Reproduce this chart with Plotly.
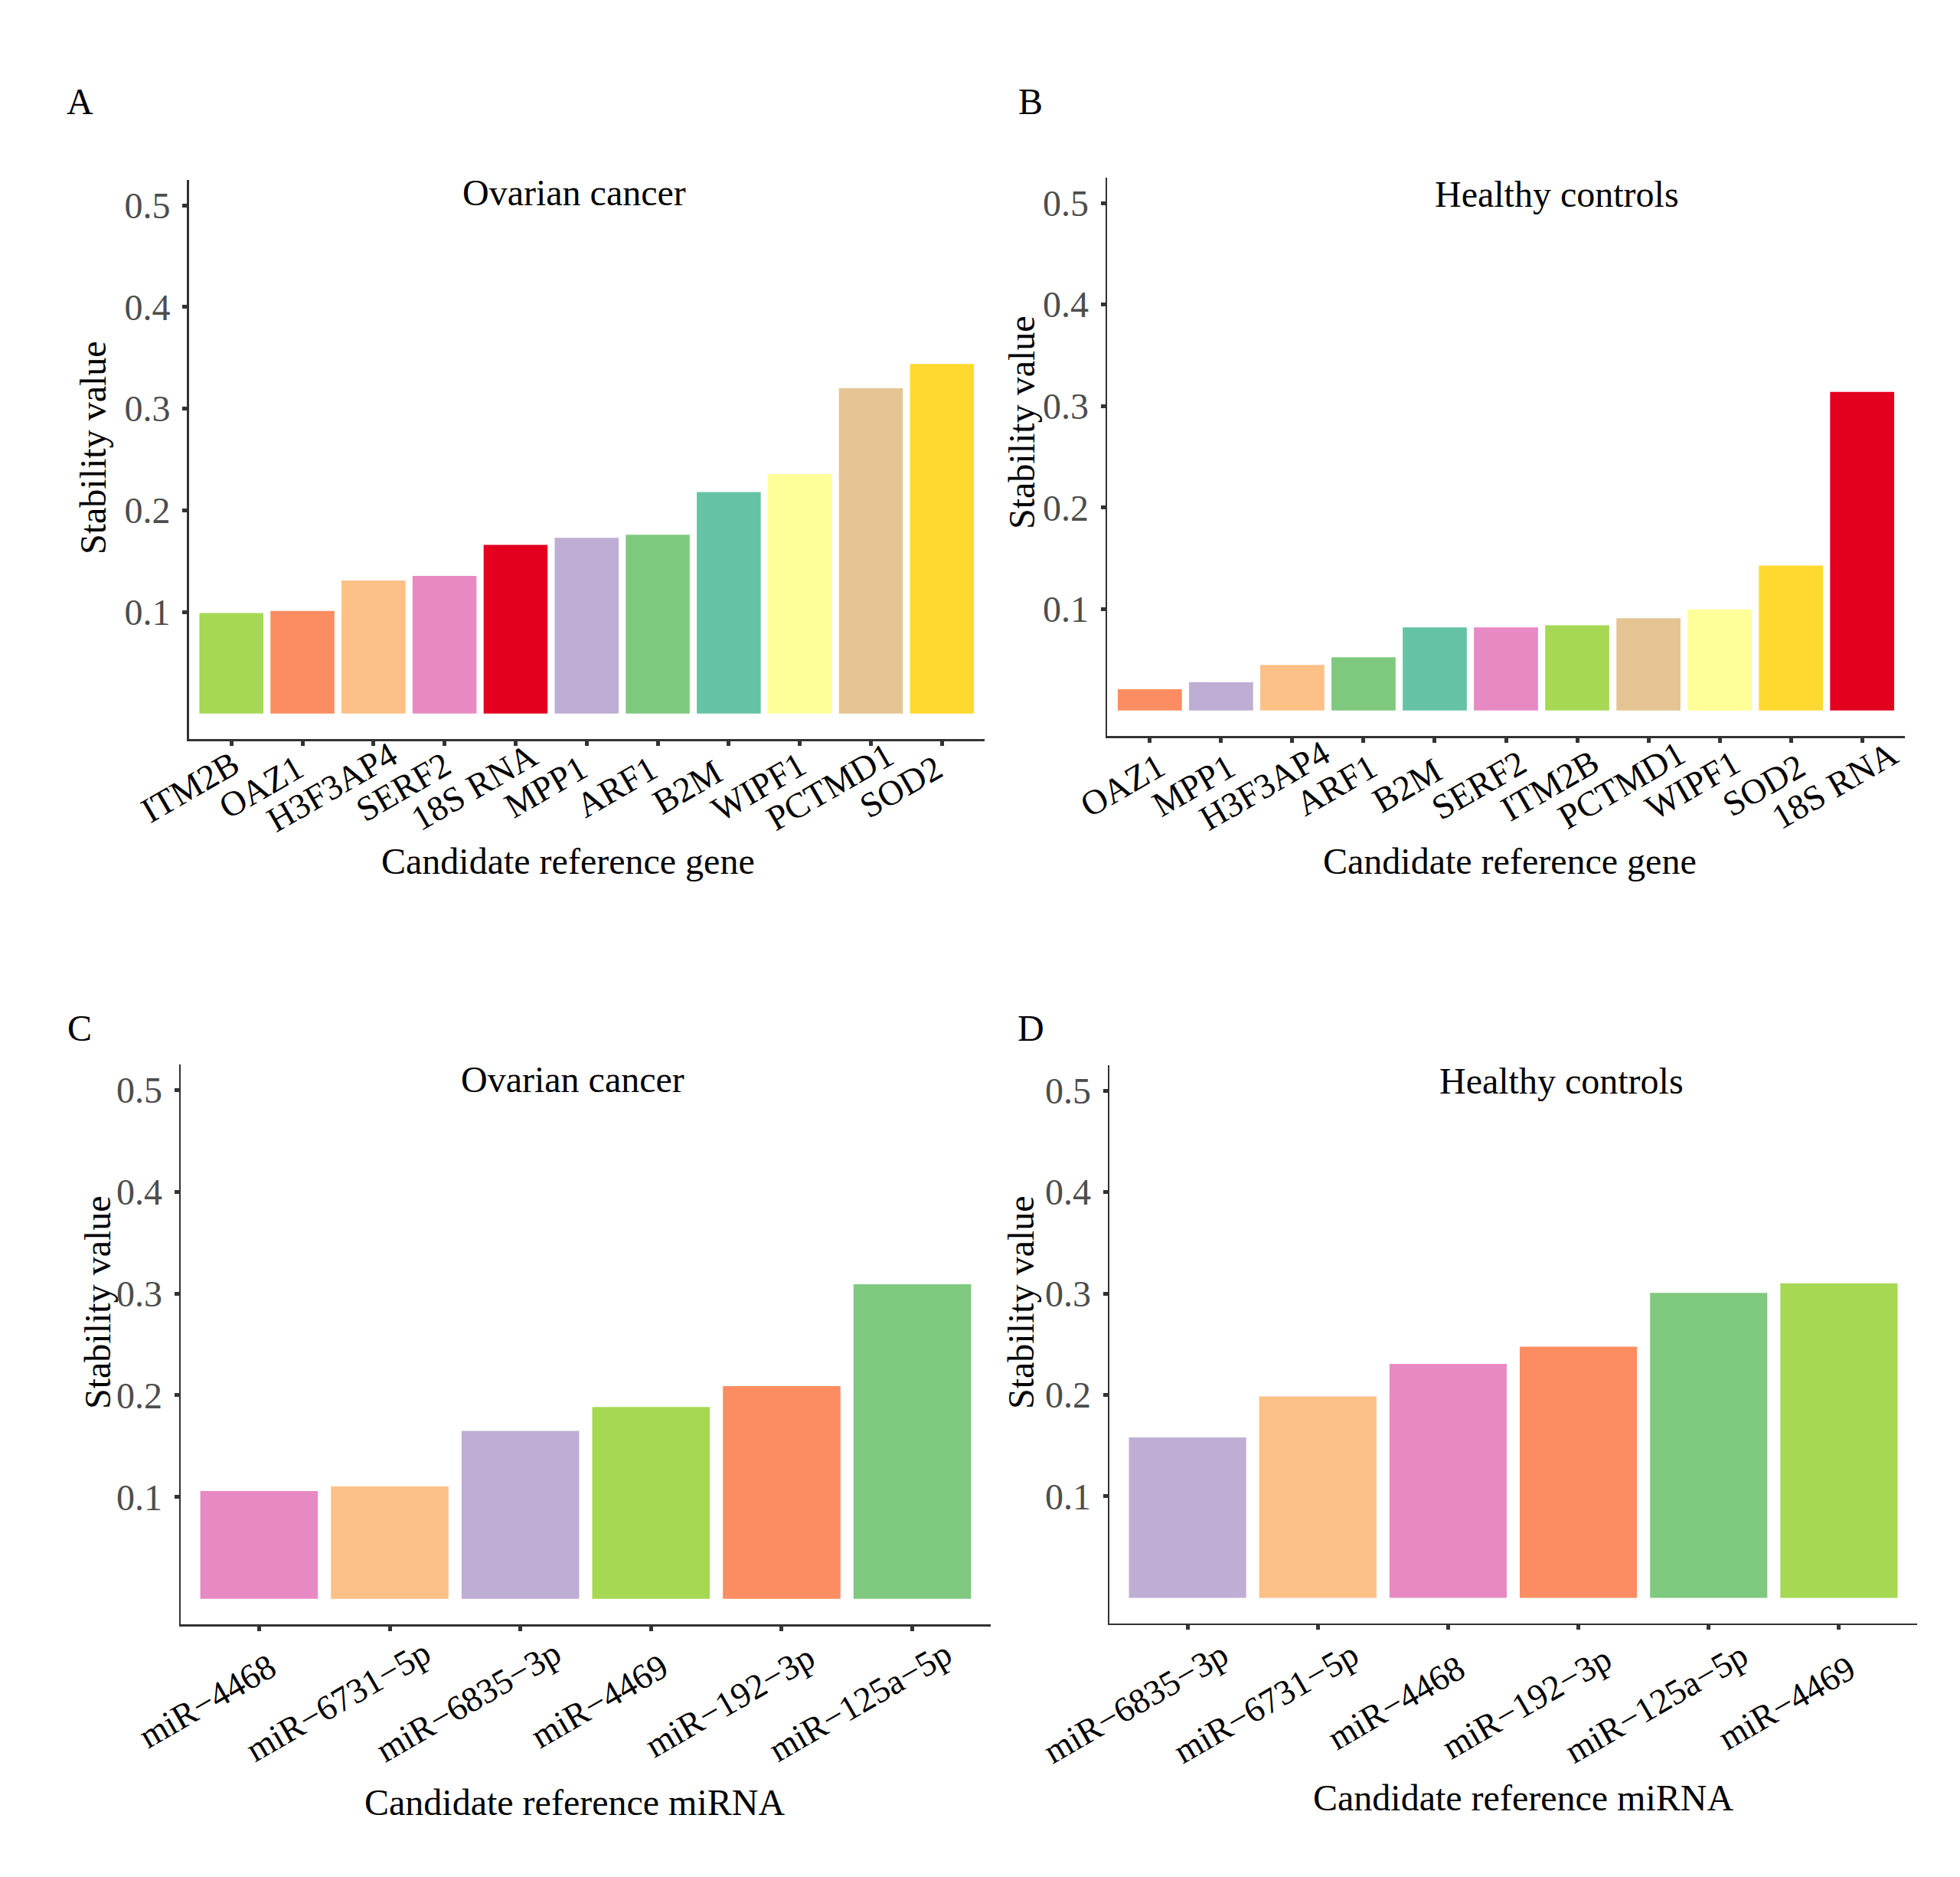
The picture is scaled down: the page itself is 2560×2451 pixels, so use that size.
import plotly.graph_objects as go

# ---------------- data ----------------
genes_A = ["ITM2B", "OAZ1", "H3F3AP4", "SERF2", "18S RNA", "MPP1", "ARF1", "B2M", "WIPF1", "PCTMD1", "SOD2"]
vals_A = [0.099, 0.101, 0.131, 0.1355, 0.166, 0.173, 0.176, 0.218, 0.2355, 0.320, 0.344]

genes_B = ["OAZ1", "MPP1", "H3F3AP4", "ARF1", "B2M", "SERF2", "ITM2B", "PCTMD1", "WIPF1", "SOD2", "18S RNA"]
vals_B = [0.021, 0.028, 0.045, 0.0525, 0.082, 0.082, 0.084, 0.091, 0.0995, 0.1428, 0.314]

mirna_C = ["miR−4468", "miR−6731−5p", "miR−6835−3p", "miR−4469", "miR−192−3p", "miR−125a−5p"]
vals_C = [0.106, 0.1105, 0.165, 0.1885, 0.209, 0.309]

mirna_D = ["miR−6835−3p", "miR−6731−5p", "miR−4468", "miR−192−3p", "miR−125a−5p", "miR−4469"]
vals_D = [0.158, 0.1985, 0.2305, 0.2475, 0.3005, 0.310]

gene_colors = {
    "ITM2B": "#A6D854", "OAZ1": "#FC8D62", "H3F3AP4": "#FDC086", "SERF2": "#E78AC3",
    "18S RNA": "#E3001E", "MPP1": "#BEAED4", "ARF1": "#7FC97F", "B2M": "#66C2A5",
    "WIPF1": "#FFFF99", "PCTMD1": "#E5C494", "SOD2": "#FFD92F",
}
mirna_colors = {
    "miR−4468": "#E78AC3", "miR−6731−5p": "#FDC086", "miR−6835−3p": "#BEAED4",
    "miR−4469": "#A6D854", "miR−192−3p": "#FC8D62", "miR−125a−5p": "#7FC97F",
}

y_ticks = [0.1, 0.2, 0.3, 0.4, 0.5]
y_ticklabels = ["0.1", "0.2", "0.3", "0.4", "0.5"]

panel_labels = ["A", "B", "C", "D"]
panel_titles = ["Ovarian cancer", "Healthy controls", "Ovarian cancer", "Healthy controls"]
x_titles = ["Candidate reference gene", "Candidate reference gene",
            "Candidate reference miRNA", "Candidate reference miRNA"]
y_title = "Stability value"

# ---------------- layout ----------------
W, H = 2560, 2451
FONT = "Liberation Serif, Times New Roman, serif"
AXIS_COLOR = "#333333"

def px_x(v):
    return v / W

def px_y(v):
    return 1 - v / H

panels = [
    dict(cats=genes_A, vals=vals_A, cmap=gene_colors,
         xd=(246.5, 1286), yd=(235, 965), lbl=(-54, 62),
         lab=(104, 132), tit=(750, 252), xt=(742, 1124), yt=(121, 585)),
    dict(cats=genes_B, vals=vals_B, cmap=gene_colors,
         xd=(1446, 2488), yd=(232, 961), lbl=(-36, 64),
         lab=(1346, 132), tit=(2033, 254), xt=(1972, 1124), yt=(1334, 552)),
    dict(cats=mirna_C, vals=vals_C, cmap=mirna_colors,
         xd=(236, 1294), yd=(1390, 2121), lbl=(-68, 100),
         lab=(104, 1342), tit=(748, 1409), xt=(750, 2353), yt=(128, 1701)),
    dict(cats=mirna_D, vals=vals_D, cmap=mirna_colors,
         xd=(1449, 2504), yd=(1391, 2119.5), lbl=(-68, 104),
         lab=(1346, 1342), tit=(2039, 1411), xt=(1989, 2347), yt=(1334, 1701)),
]

fig = go.Figure()
annotations = []
layout_axes = {}

for i, p in enumerate(panels):
    n = i + 1
    xa = "x" if n == 1 else f"x{n}"
    ya = "y" if n == 1 else f"y{n}"
    fig.add_trace(go.Bar(
        x=p["cats"], y=p["vals"],
        marker=dict(color=[p["cmap"][c] for c in p["cats"]], line=dict(width=0)),
        width=0.9, xaxis=xa, yaxis=ya, showlegend=False,
    ))
    layout_axes["xaxis" if n == 1 else f"xaxis{n}"] = dict(
        domain=[px_x(p["xd"][0]), px_x(p["xd"][1])],
        anchor=ya, type="category", automargin=False,
        categoryorder="array", categoryarray=p["cats"],
        range=[-0.6, len(p["cats"]) - 0.4],
        showline=True, linecolor=AXIS_COLOR, linewidth=2.5,
        ticks="outside", ticklen=6, tickwidth=5, tickcolor=AXIS_COLOR,
        showticklabels=False,
        showgrid=False, zeroline=False, fixedrange=True,
    )
    layout_axes["yaxis" if n == 1 else f"yaxis{n}"] = dict(
        domain=[px_y(p["yd"][1]), px_y(p["yd"][0])],
        anchor=xa, range=[-0.025, 0.525], automargin=False,
        tickmode="array", tickvals=y_ticks, ticktext=y_ticklabels,
        showline=True, linecolor=AXIS_COLOR, linewidth=2.5,
        ticks="outside", ticklen=6, tickwidth=5, tickcolor=AXIS_COLOR,
        ticklabelstandoff=6,
        tickfont=dict(family=FONT, size=48, color="#4D4D4D"),
        showgrid=False, zeroline=False, fixedrange=True,
    )
    # rotated category labels, centred at a fixed offset from each tick
    cx, cy = p["lbl"]
    for c in p["cats"]:
        annotations.append(dict(
            text=c, x=c, xref=xa, y=0, yref=f"{ya} domain",
            xshift=cx, yshift=-cy, showarrow=False, textangle=-30,
            xanchor="center", yanchor="middle",
            font=dict(family=FONT, size=46, color="black"),
        ))
    annotations.append(dict(text=panel_labels[i], x=px_x(p["lab"][0]), y=px_y(p["lab"][1]),
                            xref="paper", yref="paper", showarrow=False,
                            xanchor="center", yanchor="middle",
                            font=dict(family=FONT, size=48, color="black")))
    annotations.append(dict(text=panel_titles[i], x=px_x(p["tit"][0]), y=px_y(p["tit"][1]),
                            xref="paper", yref="paper", showarrow=False,
                            xanchor="center", yanchor="middle",
                            font=dict(family=FONT, size=48, color="black")))
    annotations.append(dict(text=x_titles[i], x=px_x(p["xt"][0]), y=px_y(p["xt"][1]),
                            xref="paper", yref="paper", showarrow=False,
                            xanchor="center", yanchor="middle",
                            font=dict(family=FONT, size=48, color="black")))
    annotations.append(dict(text=y_title, x=px_x(p["yt"][0]), y=px_y(p["yt"][1]),
                            xref="paper", yref="paper", showarrow=False, textangle=-90,
                            xanchor="center", yanchor="middle",
                            font=dict(family=FONT, size=48, color="black")))

fig.update_layout(
    width=W, height=H,
    margin=dict(l=0, r=0, t=0, b=0, autoexpand=False),
    paper_bgcolor="white", plot_bgcolor="white",
    bargap=0.1, showlegend=False,
    annotations=annotations,
    **layout_axes,
)

fig.write_html(
    "out.html",
    config={"displayModeBar": False, "staticPlot": True},
    post_script="document.body.style.margin='0';document.body.style.overflow='hidden';",
)
